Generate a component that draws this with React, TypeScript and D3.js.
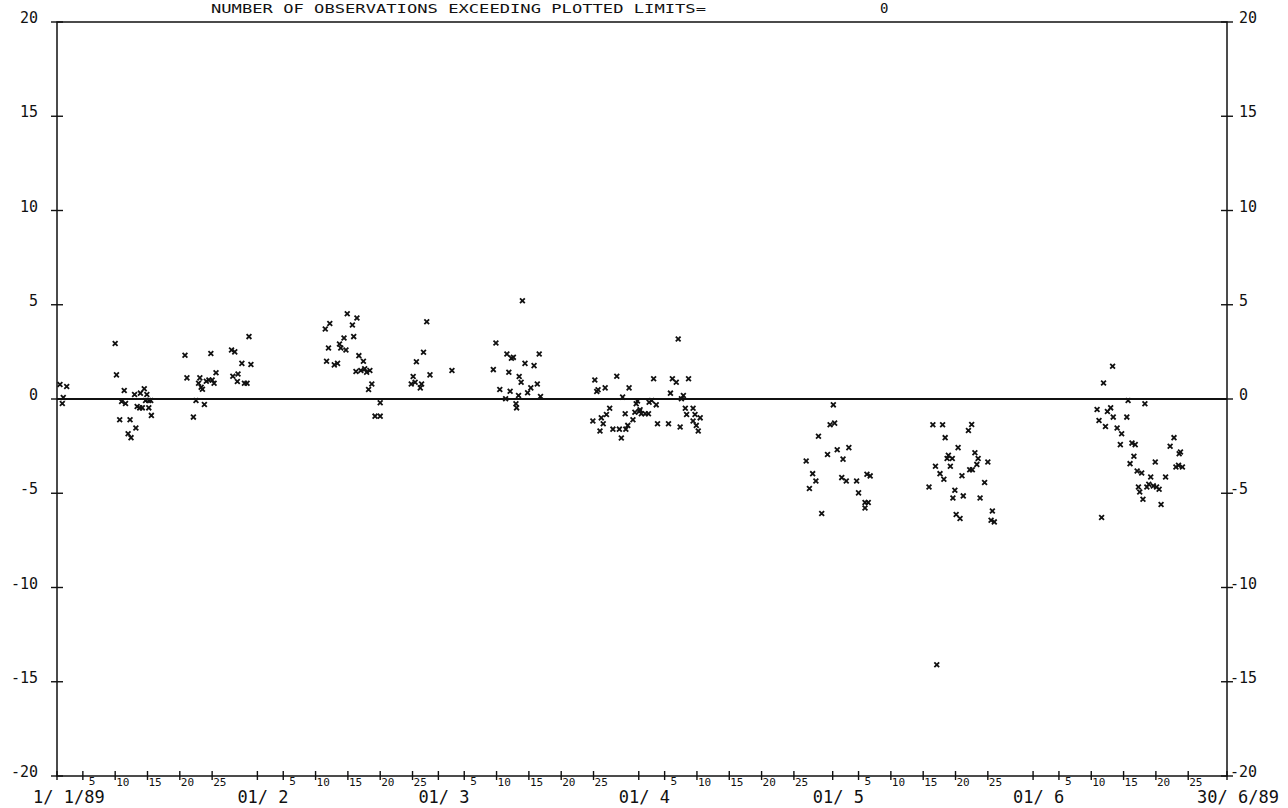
import React, { useEffect, useRef } from "react";
import * as d3 from "d3";

// y axis ticks (same on both sides)
const yTicks = [20, 15, 10, 5, 0, -5, -10, -15, -20];
// day offset from 1 Jan 1989 of each month start, and its label
const monthStartDays = [0, 31, 59, 90, 120, 151];
const monthLabels = ["1/ 1/89", "01/ 2", "01/ 3", "01/ 4", "01/ 5", "01/ 6"];
const dayTicks = [5, 10, 15, 20, 25];
const endDay = 181;
const endLabel = "30/ 6/89";
const titleText = "NUMBER OF OBSERVATIONS EXCEEDING PLOTTED LIMITS=";
const exceedCount = 0;

// observations: time in days since 1 Jan 1989, and value
const obsDay = [
  0.46, 1.5, 0.97, 0.82, 9.0, 9.2, 10.4, 10.0, 10.6, 9.7, 11.3, 12.2, 11.0, 11.45,
  12.0, 12.9, 13.5, 13.9, 13.7, 14.2, 14.5, 12.4, 12.8, 13.2, 14.2, 14.6,
  19.8, 20.1, 21.1, 21.5, 22.8, 21.9, 22.1, 22.3, 22.5, 23.1, 23.5, 24.0, 24.3, 24.6, 23.8,
  27.0, 27.5, 27.2, 28.0, 28.6, 27.9, 29.0, 29.4, 29.7, 30.0,
  41.5, 42.2, 42.0, 41.7, 42.9, 43.4, 43.7, 43.9, 44.4, 44.7, 44.9, 45.7, 46.4, 45.9,
  46.7, 47.4, 46.25, 47.0, 47.6, 47.9, 48.4, 48.7, 48.2, 50.0, 49.2, 50.0,
  57.2, 56.7, 55.6, 55.1, 54.8, 55.4, 56.2, 56.4, 57.7, 61.1,
  72.0, 67.9, 69.6, 70.3, 70.6, 67.5, 69.9, 71.5, 71.8, 72.4, 73.8, 74.6,
  68.5, 70.1, 71.4, 72.8, 73.3, 74.3, 74.8, 69.4, 71.0, 71.1,
  83.2, 83.5, 96.1, 86.6, 84.8, 83.7, 88.5, 87.5, 92.3, 95.2, 95.8, 97.7, 94.9, 96.9, 96.6,
  89.8, 89.6, 91.6, 92.0, 92.7, 85.5, 85.0, 84.2, 82.9, 84.5, 84.0, 86.0, 87.0, 88.0, 88.3,
  89.1, 87.9, 89.4, 90.1, 90.4, 91.0, 91.5, 90.2, 87.3, 92.9, 94.6, 96.4, 97.2, 98.4, 97.4,
  98.7, 99.5, 98.4, 98.9, 99.2,
  120.1, 119.6, 120.3, 117.8, 115.9, 119.2, 120.7, 122.5, 121.6, 116.9, 117.4, 116.4, 118.3,
  121.4, 122.1, 123.7, 125.3, 125.8, 124.0, 125.0, 125.5, 125.0,
  135.5, 137.0, 141.5, 141.0, 137.4, 139.4, 137.9, 137.7, 138.5, 142.0, 142.5, 142.3, 144.0,
  135.9, 138.2, 141.2, 141.6, 136.6, 137.2, 140.0, 134.9, 143.5, 138.9, 138.6, 140.2, 142.8,
  139.1, 139.7, 144.7, 144.5, 145.0, 136.1,
  161.6, 161.9, 163.3, 165.7, 168.3, 160.9, 162.5, 163.0, 163.4, 161.2, 162.2, 165.5, 164.0,
  164.7, 164.5, 166.3, 166.8, 166.6, 166.0, 167.1, 167.8, 169.9, 169.2, 171.5, 167.3, 167.5,
  168.6, 168.9, 169.6, 170.1, 170.5, 168.0, 170.8, 172.8, 172.2, 173.6, 173.8, 173.1, 173.5, 174.1,
];
const obsValue = [
  0.77, 0.66, 0.08, -0.24, 2.94, 1.28, 0.45, -0.13, -0.24, -1.1, -1.1, -1.54, -1.84, -2.05,
  0.24, 0.31, 0.54, 0.24, -0.08, -0.08, -0.08, -0.4, -0.47, -0.47, -0.47, -0.87,
  2.32, 1.12, -0.96, -0.08, -0.29, 0.84, 1.12, 0.62, 0.52, 0.94, 1.01, 1.01, 0.84, 1.39, 2.41,
  2.6, 2.5, 1.21, 1.33, 1.89, 0.93, 0.84, 0.84, 3.31, 1.83,
  3.71, 4.01, 2.71, 2.0, 1.81, 1.89, 2.92, 2.71, 3.24, 2.6, 4.52, 3.93, 4.3, 3.31,
  2.3, 2.0, 1.46, 1.51, 1.6, 1.42, 1.51, 0.8, 0.5, -0.2, -0.91, -0.91,
  4.1, 2.48, 1.98, 1.19, 0.8, 0.89, 0.59, 0.8, 1.28, 1.51,
  5.21, 2.97, 2.39, 2.16, 2.21, 1.56, 1.42, 1.19, 0.89, 1.89, 1.77, 2.39,
  0.5, 0.41, 0.19, 0.33, 0.59, 0.8, 0.13, 0.01, -0.25, -0.47,
  1.01, 0.4, 3.18, 1.21, 0.59, 0.49, 0.59, 0.1, 1.07, 1.07, 0.89, 1.07, 0.31, 0.19, 0.01,
  -0.11, -0.25, -0.17, -0.08, -0.31, -0.49, -0.82, -1.0, -1.17, -1.31, -1.7, -1.6, -1.6, -1.6, -1.4,
  -1.1, -0.78, -0.7, -0.65, -0.78, -0.78, -0.78, -0.57, -2.07, -1.31, -1.31, -1.49, -0.49, -0.49, -0.82,
  -0.82, -1.0, -1.17, -1.4, -1.7,
  -0.31, -1.37, -1.28, -1.98, -3.29, -2.94, -2.69, -2.58, -3.19, -3.96, -4.35, -4.75, -6.07,
  -4.17, -4.35, -4.35, -3.99, -4.08, -4.98, -5.49, -5.49, -5.78,
  -1.37, -1.37, -1.35, -1.67, -2.05, -2.58, -2.99, -3.16, -3.16, -2.85, -3.16, -3.47, -3.34,
  -3.57, -3.57, -3.75, -3.75, -3.96, -4.26, -4.07, -4.67, -4.43, -4.84, -5.25, -5.14, -5.25,
  -6.13, -6.34, -5.94, -6.43, -6.52, -14.1,
  -6.29, 0.85, 1.74, -0.08, -0.25, -0.56, -0.66, -0.47, -0.96, -1.14, -1.46, -0.96, -1.54,
  -1.84, -2.42, -2.34, -2.42, -3.04, -3.43, -3.82, -3.93, -3.34, -4.14, -4.14, -4.67, -4.93,
  -4.67, -4.52, -4.61, -4.67, -4.79, -5.32, -5.6, -2.05, -2.51, -2.9, -2.81, -3.61, -3.52, -3.61,
];

const FONT = "'DejaVu Sans Mono', 'Liberation Mono', monospace";

export default function App() {
  const svgRef = useRef<SVGSVGElement>(null);

  useEffect(() => {
    const svg = d3.select(svgRef.current);
    svg.selectAll("*").remove();

    const x = d3.scaleLinear().domain([0, endDay]).range([57, 1227]);
    const y = d3.scaleLinear().domain([-20, 20]).range([776, 22]);
    const x0 = x(0), x1 = x(endDay), yTop = y(20), yBot = y(-20);

    const g = svg.append("g");

    // frame
    g.append("rect")
      .attr("x", x0).attr("y", yTop)
      .attr("width", x1 - x0).attr("height", yBot - yTop)
      .attr("fill", "none").attr("stroke", "#111").attr("stroke-width", 1.5);

    // zero line
    g.append("line")
      .attr("x1", x0).attr("x2", x1)
      .attr("y1", y(0)).attr("y2", y(0))
      .attr("stroke", "#111").attr("stroke-width", 2.2);

    // y ticks + labels on both sides
    yTicks.forEach((v) => {
      [x0, x1].forEach((xx) => {
        g.append("line")
          .attr("x1", xx - 6).attr("x2", xx + 6)
          .attr("y1", y(v)).attr("y2", y(v))
          .attr("stroke", "#111").attr("stroke-width", 1.4);
      });
      g.append("text")
        .attr("x", 38).attr("y", y(v) + 1)
        .attr("text-anchor", "end")
        .attr("font-family", FONT).attr("font-size", 15)
        .attr("fill", "#111")
        .text(v);
      g.append("text")
        .attr("x", v < 0 ? 1230 : 1239).attr("y", y(v) + 1)
        .attr("text-anchor", "start")
        .attr("font-family", FONT).attr("font-size", 15)
        .attr("fill", "#111")
        .text(v);
    });

    // x ticks: month starts and every 5th day
    const tickDays: number[] = [...monthStartDays, endDay];
    monthStartDays.forEach((m) => {
      dayTicks.forEach((d) => {
        const t = m + d - 1;
        if (t < endDay) tickDays.push(t);
      });
    });
    tickDays.forEach((t) => {
      g.append("line")
        .attr("x1", x(t)).attr("x2", x(t))
        .attr("y1", yBot - 5).attr("y2", yBot + 4)
        .attr("stroke", "#111").attr("stroke-width", 1.4);
    });

    // day numbers
    monthStartDays.forEach((m) => {
      dayTicks.forEach((d) => {
        const t = m + d - 1;
        if (t >= endDay) return;
        g.append("text")
          .attr("x", x(t) + (d < 10 ? 6 : 1)).attr("y", yBot + (d < 10 ? 9 : 10))
          .attr("font-family", FONT).attr("font-size", 11)
          .attr("fill", "#111")
          .text(d);
      });
    });

    // month labels
    monthStartDays.forEach((m, i) => {
      g.append("text")
        .attr("x", x(m) - (i === 0 ? 24 : 20)).attr("y", yBot + 27)
        .attr("font-family", FONT).attr("font-size", 17)
        .attr("fill", "#111")
        .style("white-space", "pre")
        .text(monthLabels[i]);
    });
    g.append("text")
      .attr("x", x(endDay) - 30).attr("y", yBot + 27)
      .attr("font-family", FONT).attr("font-size", 17)
      .attr("fill", "#111")
      .style("white-space", "pre")
      .text(endLabel);

    // title
    g.append("text")
      .attr("x", 211).attr("y", 13)
      .attr("font-family", FONT).attr("font-size", 12.5)
      .attr("textLength", 495).attr("lengthAdjust", "spacingAndGlyphs")
      .attr("fill", "#111")
      .text(titleText);
    g.append("text")
      .attr("x", 880).attr("y", 13)
      .attr("font-family", FONT).attr("font-size", 14)
      .attr("fill", "#111")
      .text(exceedCount);

    // observations as x markers
    const s = 2.4;
    g.append("g")
      .selectAll("path")
      .data(obsDay.map((d, i) => [d, obsValue[i]]))
      .join("path")
      .attr("d", ([d, v]) => {
        const cx = x(d), cy = y(v);
        return `M${cx - s},${cy - s}L${cx + s},${cy + s}M${cx - s},${cy + s}L${cx + s},${cy - s}`;
      })
      .attr("stroke", "#111").attr("stroke-width", 1.8).attr("fill", "none");
  }, []);

  return (
    <div style={{ position: "absolute", left: 0, top: 0 }}>
      <svg ref={svgRef} width={1288} height={808} style={{ display: "block", background: "#fff" }} />
    </div>
  );
}
